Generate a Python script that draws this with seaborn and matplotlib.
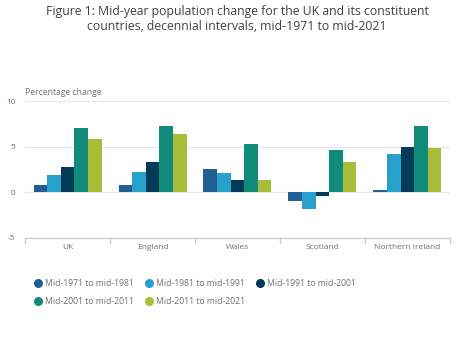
import matplotlib
matplotlib.use("Agg")
import matplotlib.pyplot as plt
from matplotlib.lines import Line2D
import seaborn as sns
import pandas as pd

countries = ["UK", "England", "Wales", "Scotland", "Northern Ireland"]
periods = ["Mid-1971 to mid-1981", "Mid-1981 to mid-1991", "Mid-1991 to mid-2001",
           "Mid-2001 to mid-2011", "Mid-2011 to mid-2021"]
p1971_1981 = [0.8, 0.8, 2.6, -1.0, 0.2]
p1981_1991 = [1.9, 2.2, 2.1, -1.8, 4.2]
p1991_2001 = [2.8, 3.3, 1.3, -0.4, 5.0]
p2001_2011 = [7.0, 7.3, 5.3, 4.6, 7.3]
p2011_2021 = [5.8, 6.4, 1.4, 3.3, 4.9]
colors = ["#206095", "#27a0cc", "#003c57", "#118c7b", "#a8bd3a"]
yticks = [-5, 0, 5, 10]

series = [p1971_1981, p1981_1991, p1991_2001, p2001_2011, p2011_2021]
rows = []
for per, vals in zip(periods, series):
    for c, v in zip(countries, vals):
        rows.append({"country": c, "period": per, "value": v})
df = pd.DataFrame(rows)

sns.set_theme(style="white")
plt.rcParams["font.family"] = ["Open Sans", "DejaVu Sans"]
plt.rcParams["axes.unicode_minus"] = False

fig = plt.figure(figsize=(4.74, 3.39), dpi=100)
ax = fig.add_axes([0.053, 0.298, 0.896, 0.404])

sns.barplot(data=df, x="country", y="value", hue="period", order=countries,
            hue_order=periods, palette=colors, width=0.8, ax=ax,
            errorbar=None, saturation=1, legend=False, linewidth=0)

ax.set_ylim(-5, 10)
ax.set_xlim(-0.5, len(countries) - 0.5)
ax.set_yticks(yticks)
ax.set_yticklabels([str(t) for t in yticks])
for t in [0, 5, 10]:
    ax.axhline(t, color="#e6e6e6", lw=0.8, zorder=0)
for s in ["left", "right", "top"]:
    ax.spines[s].set_visible(False)
ax.spines["bottom"].set_color("#c9ccd6")
ax.spines["bottom"].set_linewidth(1.0)
ax.set_xlabel("")
ax.set_ylabel("")
ax.tick_params(axis="y", length=0, pad=7, labelsize=6.0, labelcolor="#707071")
ax.tick_params(axis="x", length=0, pad=4.5, labelsize=6.0, labelcolor="#707071")
for b in range(len(countries) + 1):
    ax.plot([b - 0.5, b - 0.5], [-5, -5.55], color="#c9ccd6", lw=1.0, clip_on=False)

fig.text(0.053, 0.713, "Percentage change", fontsize=6.2, color="#707071", ha="left", va="bottom")
fig.suptitle("Figure 1: Mid-year population change for the UK and its constituent\ncountries, decennial intervals, mid-1971 to mid-2021",
             fontsize=8.8, color="#414042", y=0.985, linespacing=1.2)

handles = [Line2D([0], [0], marker="o", ls="", markersize=5.5, markerfacecolor=c,
                  markeredgecolor=c) for c in colors]
order = [0, 3, 1, 4, 2]
fig.legend([handles[i] for i in order], [periods[i] for i in order], ncol=3,
           loc="upper left", bbox_to_anchor=(0.055, 0.2),
           frameon=False, fontsize=6.2, labelcolor="#707071", handletextpad=0.3,
           columnspacing=1.25, handlelength=1.0, labelspacing=1.07)

fig.savefig("out.png", dpi=100)
